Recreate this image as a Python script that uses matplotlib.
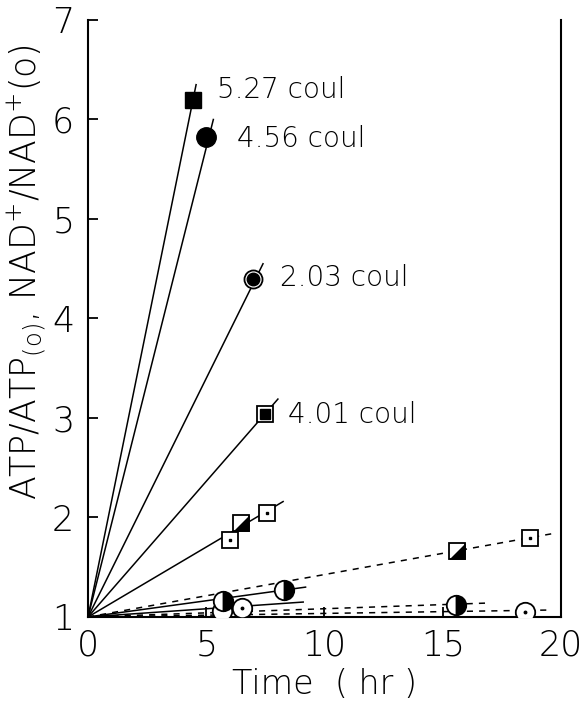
import matplotlib
matplotlib.use("Agg")
import matplotlib.pyplot as plt

plt.rcParams["font.family"] = ["DejaVu Sans"]
plt.rcParams["font.weight"] = 200
plt.rcParams["axes.labelweight"] = 200
plt.rcParams["mathtext.fontset"] = "custom"
plt.rcParams["mathtext.rm"] = "DejaVu Sans:weight=200"

# fitted lines: all start at (0, 1), end where the drawn segment stops
line_end_x = [4.57, 5.30, 7.40, 8.03, 8.25, 19.7, 9.2, 9.1, 16.9, 19.6]
line_end_y = [6.35, 6.00, 4.55, 3.19, 2.16, 1.84, 1.30, 1.15, 1.14, 1.07]
line_dashed = [False, False, False, False, False, True, False, False, True, True]

# markers
filled_sq_x, filled_sq_y = [4.44], [6.20]
filled_ci_x, filled_ci_y = [5.00], [5.82]
bull_x, bull_y = [6.98], [4.40]
boxsq_x, boxsq_y = [7.48], [3.04]
dotsq_x, dotsq_y = [6.00, 7.57, 18.7], [1.77, 2.04, 1.79]
halfsq_x, halfsq_y = [6.47, 15.6], [1.94, 1.66]
halfci_x, halfci_y = [5.70, 8.30, 15.56], [1.16, 1.27, 1.12]
dotci_x, dotci_y = [6.50, 18.5], [1.09, 1.05]
openci_x, openci_y = [5.65], [1.06]

labels = ["5.27 coul", "4.56 coul", "2.03 coul", "4.01 coul"]
label_x = [5.45, 6.30, 8.12, 8.46]
label_y = [6.30, 5.80, 4.41, 3.03]

fig = plt.figure(figsize=(5.88, 7.09), dpi=100)
ax = fig.add_axes([0.1497, 0.1298, 0.8043, 0.842])

for ex, ey, dashed in zip(line_end_x, line_end_y, line_dashed):
    ls = (0, (4, 4)) if dashed else "-"
    ax.plot([0, ex], [1, ey], color="black", lw=1.1, ls=ls, zorder=2)

mk = dict(color="black", ls="none", zorder=4)
ax.plot(openci_x, openci_y, marker="o", ms=14, mfc="white", mec="black", mew=1.3, **mk)
ax.plot(filled_sq_x, filled_sq_y, marker="s", ms=11, mfc="black", **mk)
ax.plot(filled_ci_x, filled_ci_y, marker="o", ms=14, mfc="black", **mk)
ax.plot(bull_x, bull_y, marker="o", ms=13, mfc="white", mec="black", mew=1.3, **mk)
ax.plot(bull_x, bull_y, marker="o", ms=9, mfc="black", mec="black", **mk)
ax.plot(boxsq_x, boxsq_y, marker="s", ms=11, mfc="white", mec="black", mew=1.3, **mk)
ax.plot(boxsq_x, boxsq_y, marker="s", ms=7.5, mfc="black", mec="black", **mk)
ax.plot(dotsq_x, dotsq_y, marker="s", ms=11, mfc="white", mec="black", mew=1.3, **mk)
ax.plot(dotsq_x, dotsq_y, marker="s", ms=1.8, mfc="black", mec="black", **mk)
ax.plot(halfsq_x, halfsq_y, marker="s", ms=11, mfc="white", mec="black", mew=1.3, **mk)
ax.plot(halfsq_x, halfsq_y, marker=[(1, 1), (1, -1), (-1, -1)], ms=11,
        mfc="black", mec="black", mew=0.5, **mk)
ax.plot(halfci_x, halfci_y, marker="o", ms=14, fillstyle="right", mfc="black",
        mfcalt="white", mec="black", mew=1.3, **mk)
ax.plot(dotci_x, dotci_y, marker="o", ms=14, mfc="white", mec="black", mew=1.3, **mk)
ax.plot(dotci_x, dotci_y, marker="o", ms=1.8, mfc="black", mec="black", **mk)

for t, x, y in zip(labels, label_x, label_y):
    ax.text(x, y, t, fontsize=20, va="center", ha="left")

ax.set_xlim(0, 20)
ax.set_ylim(1, 7)
ax.set_xticks([0, 5, 10, 15, 20])
ax.set_yticks([1, 2, 3, 4, 5, 6, 7])
ax.tick_params(direction="in", length=7, width=1.3, labelsize=25, pad=10)
ax.tick_params(axis="x", pad=8)
ax.spines["top"].set_visible(False)
for s in ["left", "right", "bottom"]:
    ax.spines[s].set_linewidth(1.5)

ax.set_xlabel("Time  ( hr )", fontsize=24, labelpad=4, fontweight=200)
ax.set_ylabel(r"ATP/ATP$\mathregular{_{(o)}}$, NAD$\mathregular{^{+}}$/NAD$\mathregular{^{+}}$(o)",
              fontsize=25, labelpad=4, fontweight=200)
ax.yaxis.set_label_coords(-0.085, 0.578)

fig.savefig("out.png", dpi=100)
